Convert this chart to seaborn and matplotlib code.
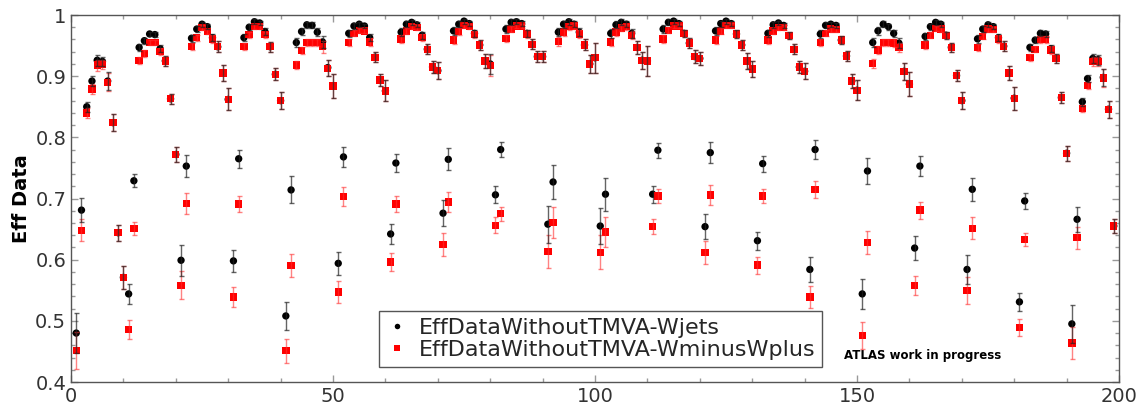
import pandas as pd
import matplotlib
matplotlib.use('Agg')
import matplotlib.pyplot as plt
import numpy as np
import seaborn as sns
from matplotlib.ticker import MultipleLocator


# bin index, one point per bin (1..199)
bins = list(range(1, 200))

# EffDataWithoutTMVA-Wjets (black), rows of 10 bins
eff_wjets = [
    0.480, 0.681, 0.850, 0.892, 0.926, 0.924, 0.892, 0.824, 0.644, 0.571,
    0.544, 0.729, 0.947, 0.958, 0.969, 0.968, 0.945, 0.925, 0.863, 0.772,
    0.599, 0.753, 0.962, 0.977, 0.985, 0.981, 0.963, 0.948, 0.905, 0.862,
    0.598, 0.765, 0.963, 0.980, 0.989, 0.987, 0.973, 0.948, 0.903, 0.860,
    0.508, 0.714, 0.955, 0.973, 0.984, 0.983, 0.972, 0.956, 0.914, 0.884,
    0.594, 0.768, 0.970, 0.982, 0.985, 0.982, 0.963, 0.931, 0.894, 0.876,
    0.642, 0.758, 0.972, 0.985, 0.988, 0.984, 0.967, 0.944, 0.915, 0.909,
    0.676, 0.764, 0.974, 0.985, 0.990, 0.986, 0.970, 0.951, 0.925, 0.920,
    0.706, 0.780, 0.977, 0.988, 0.989, 0.986, 0.970, 0.952, 0.932, 0.932,
    0.658, 0.727, 0.972, 0.985, 0.989, 0.985, 0.972, 0.951, 0.920, 0.930,
    0.655, 0.707, 0.970, 0.984, 0.988, 0.985, 0.970, 0.947, 0.926, 0.925,
    0.707, 0.779, 0.977, 0.988, 0.990, 0.986, 0.970, 0.954, 0.932, 0.929,
    0.654, 0.775, 0.974, 0.986, 0.990, 0.986, 0.969, 0.951, 0.925, 0.912,
    0.631, 0.757, 0.970, 0.984, 0.987, 0.983, 0.966, 0.944, 0.915, 0.908,
    0.584, 0.780, 0.969, 0.983, 0.985, 0.983, 0.959, 0.933, 0.892, 0.877,
    0.544, 0.745, 0.955, 0.974, 0.985, 0.981, 0.970, 0.954, 0.908, 0.887,
    0.619, 0.753, 0.965, 0.981, 0.988, 0.985, 0.967, 0.947, 0.901, 0.860,
    0.584, 0.715, 0.961, 0.977, 0.984, 0.981, 0.963, 0.949, 0.905, 0.864,
    0.531, 0.696, 0.947, 0.959, 0.970, 0.969, 0.945, 0.929, 0.865, 0.774,
    0.495, 0.666, 0.858, 0.896, 0.929, 0.927, 0.898, 0.846, 0.655,
]
err_wjets = [
    0.032, 0.020, 0.008, 0.008, 0.009, 0.008, 0.015, 0.014, 0.013, 0.019,
    0.016, 0.011, 0.006, 0.005, 0.004, 0.004, 0.006, 0.008, 0.008, 0.012,
    0.025, 0.018, 0.006, 0.005, 0.004, 0.004, 0.006, 0.009, 0.013, 0.018,
    0.018, 0.015, 0.006, 0.005, 0.004, 0.004, 0.005, 0.008, 0.010, 0.014,
    0.023, 0.022, 0.008, 0.006, 0.005, 0.005, 0.006, 0.010, 0.013, 0.020,
    0.019, 0.016, 0.006, 0.005, 0.004, 0.004, 0.006, 0.008, 0.010, 0.017,
    0.016, 0.014, 0.006, 0.005, 0.004, 0.004, 0.006, 0.008, 0.010, 0.014,
    0.021, 0.018, 0.006, 0.005, 0.004, 0.004, 0.006, 0.008, 0.011, 0.017,
    0.014, 0.012, 0.006, 0.005, 0.004, 0.004, 0.006, 0.008, 0.009, 0.009,
    0.030, 0.028, 0.007, 0.006, 0.005, 0.005, 0.007, 0.009, 0.015, 0.025,
    0.029, 0.027, 0.007, 0.006, 0.005, 0.005, 0.007, 0.010, 0.014, 0.025,
    0.014, 0.012, 0.006, 0.005, 0.004, 0.004, 0.006, 0.008, 0.011, 0.011,
    0.020, 0.017, 0.006, 0.005, 0.004, 0.004, 0.006, 0.008, 0.013, 0.013,
    0.015, 0.013, 0.006, 0.005, 0.004, 0.004, 0.006, 0.008, 0.010, 0.013,
    0.020, 0.016, 0.006, 0.005, 0.004, 0.004, 0.006, 0.008, 0.011, 0.016,
    0.025, 0.021, 0.008, 0.006, 0.005, 0.005, 0.006, 0.008, 0.014, 0.020,
    0.019, 0.016, 0.006, 0.005, 0.004, 0.004, 0.006, 0.008, 0.009, 0.014,
    0.023, 0.019, 0.006, 0.005, 0.004, 0.004, 0.006, 0.008, 0.011, 0.019,
    0.015, 0.013, 0.006, 0.005, 0.005, 0.005, 0.006, 0.008, 0.009, 0.012,
    0.031, 0.020, 0.006, 0.006, 0.008, 0.008, 0.014, 0.014, 0.012,
]

# EffDataWithoutTMVA-WminusWplus (red)
eff_wmwp = [
    0.451, 0.648, 0.840, 0.879, 0.918, 0.919, 0.890, 0.824, 0.644, 0.571,
    0.486, 0.651, 0.926, 0.937, 0.955, 0.955, 0.940, 0.925, 0.863, 0.772,
    0.558, 0.692, 0.948, 0.963, 0.980, 0.973, 0.961, 0.948, 0.905, 0.862,
    0.539, 0.691, 0.948, 0.968, 0.981, 0.981, 0.968, 0.948, 0.903, 0.860,
    0.451, 0.590, 0.918, 0.942, 0.955, 0.955, 0.955, 0.948, 0.913, 0.884,
    0.547, 0.703, 0.955, 0.970, 0.975, 0.974, 0.956, 0.931, 0.894, 0.876,
    0.596, 0.691, 0.961, 0.974, 0.981, 0.980, 0.963, 0.944, 0.915, 0.909,
    0.625, 0.694, 0.959, 0.973, 0.983, 0.981, 0.968, 0.951, 0.925, 0.917,
    0.656, 0.675, 0.962, 0.977, 0.982, 0.982, 0.969, 0.952, 0.932, 0.932,
    0.613, 0.661, 0.957, 0.972, 0.981, 0.982, 0.969, 0.951, 0.920, 0.930,
    0.612, 0.645, 0.956, 0.972, 0.979, 0.981, 0.967, 0.947, 0.926, 0.925,
    0.654, 0.704, 0.961, 0.975, 0.982, 0.982, 0.970, 0.954, 0.932, 0.929,
    0.612, 0.706, 0.959, 0.974, 0.983, 0.983, 0.969, 0.951, 0.925, 0.912,
    0.591, 0.704, 0.959, 0.974, 0.980, 0.980, 0.966, 0.944, 0.915, 0.908,
    0.539, 0.715, 0.955, 0.970, 0.977, 0.976, 0.959, 0.933, 0.892, 0.877,
    0.476, 0.628, 0.921, 0.943, 0.955, 0.955, 0.954, 0.947, 0.908, 0.887,
    0.558, 0.681, 0.951, 0.967, 0.978, 0.977, 0.967, 0.947, 0.901, 0.860,
    0.550, 0.651, 0.947, 0.965, 0.977, 0.976, 0.961, 0.949, 0.905, 0.864,
    0.489, 0.633, 0.930, 0.944, 0.960, 0.960, 0.943, 0.929, 0.865, 0.774,
    0.464, 0.636, 0.847, 0.885, 0.924, 0.924, 0.897, 0.846, 0.655,
]
err_wmwp = [
    0.030, 0.018, 0.008, 0.008, 0.009, 0.008, 0.015, 0.014, 0.013, 0.019,
    0.015, 0.011, 0.006, 0.005, 0.004, 0.004, 0.006, 0.008, 0.008, 0.012,
    0.023, 0.017, 0.006, 0.005, 0.004, 0.004, 0.006, 0.009, 0.013, 0.018,
    0.017, 0.013, 0.006, 0.005, 0.004, 0.004, 0.005, 0.008, 0.010, 0.014,
    0.020, 0.019, 0.007, 0.006, 0.005, 0.005, 0.006, 0.010, 0.013, 0.020,
    0.018, 0.015, 0.006, 0.005, 0.004, 0.004, 0.006, 0.008, 0.010, 0.017,
    0.015, 0.013, 0.006, 0.005, 0.004, 0.004, 0.006, 0.008, 0.010, 0.014,
    0.019, 0.016, 0.006, 0.005, 0.004, 0.004, 0.006, 0.008, 0.011, 0.017,
    0.013, 0.011, 0.006, 0.005, 0.004, 0.004, 0.006, 0.008, 0.009, 0.009,
    0.027, 0.025, 0.007, 0.006, 0.005, 0.005, 0.007, 0.009, 0.015, 0.025,
    0.028, 0.025, 0.007, 0.006, 0.005, 0.005, 0.007, 0.010, 0.014, 0.025,
    0.012, 0.012, 0.006, 0.005, 0.004, 0.004, 0.006, 0.008, 0.011, 0.011,
    0.019, 0.016, 0.006, 0.005, 0.004, 0.004, 0.006, 0.008, 0.013, 0.013,
    0.014, 0.012, 0.006, 0.005, 0.004, 0.004, 0.006, 0.008, 0.010, 0.013,
    0.018, 0.014, 0.006, 0.005, 0.004, 0.004, 0.006, 0.008, 0.011, 0.016,
    0.022, 0.019, 0.007, 0.006, 0.005, 0.005, 0.006, 0.008, 0.014, 0.020,
    0.016, 0.014, 0.006, 0.005, 0.004, 0.004, 0.006, 0.008, 0.009, 0.014,
    0.022, 0.018, 0.006, 0.005, 0.004, 0.004, 0.006, 0.008, 0.011, 0.019,
    0.014, 0.011, 0.006, 0.005, 0.005, 0.005, 0.006, 0.008, 0.009, 0.012,
    0.026, 0.018, 0.006, 0.006, 0.008, 0.008, 0.014, 0.014, 0.012,
]

label_wjets = 'EffDataWithoutTMVA-Wjets'
label_wmwp = 'EffDataWithoutTMVA-WminusWplus'


df = pd.concat([
    pd.DataFrame({'bin': bins, 'eff': eff_wjets, 'err': err_wjets, 'sample': label_wjets}),
    pd.DataFrame({'bin': bins, 'eff': eff_wmwp, 'err': err_wmwp, 'sample': label_wmwp}),
])

sns.set_style('ticks')
plt.rcParams['font.family'] = ['DejaVu Sans']

fig = plt.figure(figsize=(11.43, 4.11), dpi=100)
ax = fig.add_axes([71/1143, 1 - 382/411, 1048/1143, 367/411])

sns.scatterplot(data=df, x='bin', y='eff', hue='sample', style='sample',
                palette={label_wjets: 'black', label_wmwp: '#ff0000'},
                markers={label_wjets: 'o', label_wmwp: 's'},
                s=28, linewidth=0, ax=ax, zorder=3)

# error bars on top, like the ROOT graph
d1 = df[df['sample'] == label_wmwp]
ax.errorbar(d1['bin'], d1['eff'], yerr=d1['err'], fmt='none', ecolor='#ff3030',
            alpha=0.6, elinewidth=1, capsize=1.8, capthick=1, zorder=4)
d0 = df[df['sample'] == label_wjets]
ax.errorbar(d0['bin'], d0['eff'], yerr=d0['err'], fmt='none', ecolor='#222222',
            alpha=0.7, elinewidth=1, capsize=1.8, capthick=1, zorder=5)

ax.set_xlim(0, 200)
ax.set_ylim(0.4, 1.0)
ax.set_xlabel('')
ax.set_ylabel('Eff Data', fontsize=14, fontweight='bold', color='black', labelpad=3)

ax.xaxis.set_major_locator(MultipleLocator(50))
ax.xaxis.set_minor_locator(MultipleLocator(10))
ax.yaxis.set_minor_locator(MultipleLocator(0.02))
ax.set_yticks([0.4, 0.5, 0.6, 0.7, 0.8, 0.9, 1.0])
ax.set_yticklabels(['0.4', '0.5', '0.6', '0.7', '0.8', '0.9', '1'])

ax.tick_params(which='both', direction='in', top=True, right=True, color='#999999',
               labelsize=14, labelcolor='#333333')
ax.tick_params(which='major', length=5, width=1)
ax.tick_params(which='minor', length=3, width=1)
for sp in ax.spines.values():
    sp.set_color('#555555')
    sp.set_linewidth(1)

leg = ax.legend(loc='lower left', bbox_to_anchor=(0.294, 0.042), fontsize=16,
                frameon=True, fancybox=False, framealpha=1, edgecolor='#555555',
                handlelength=1.0, handletextpad=0.5, borderpad=0.3,
                labelspacing=0.1, markerscale=0.75, borderaxespad=0)
leg.get_frame().set_linewidth(1)

ax.text(147.5, 0.444, 'ATLAS work in progress', fontsize=8.5, fontweight='bold',
        va='center', ha='left', color='black')

plt.savefig('out.png', dpi=100)
